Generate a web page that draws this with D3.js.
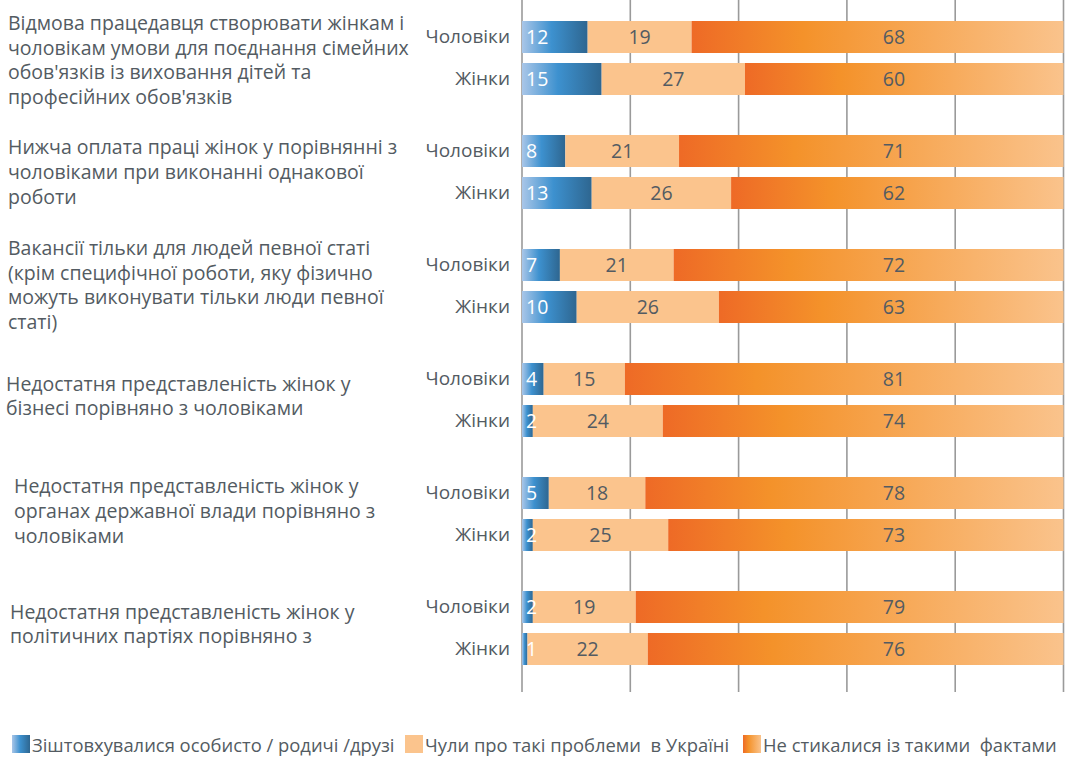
<!DOCTYPE html>
<html>
<head>
<meta charset="utf-8">
<script src="https://cdn.jsdelivr.net/npm/d3@7"></script>
<style>
  body { margin: 0; background: #fff; }
  text { font-family: 'Open Sans', sans-serif; fill: #535b62; }
</style>
</head>
<body>
<svg id="chart" width="1073" height="758"></svg>
<script>
'use strict';

// categories (label lines as in the source)
var groups = [
	['Відмова працедавця створювати жінкам і', 'чоловікам умови для поєднання сімейних', 'обов\'язків із виховання дітей та', 'професійних обов\'язків'],
	['Нижча оплата праці жінок у порівнянні з', 'чоловіками при виконанні однакової', 'роботи'],
	['Вакансії тільки для людей певної статі', '(крім специфічної роботи, яку фізично', 'можуть виконувати тільки люди певної', 'статі)'],
	['Недостатня представленість жінок у', 'бізнесі порівняно з чоловіками'],
	['Недостатня представленість жінок у', 'органах державної влади порівняно з', 'чоловіками'],
	['Недостатня представленість жінок у', 'політичних партіях порівняно з']
];
var sexes = ['Чоловіки', 'Жінки'];
var seriesNames = ['Зіштовхувалися особисто / родичі /друзі', 'Чули про такі проблеми  в Україні', 'Не стикалися із такими  фактами'];

// values per group: [men, women], each [personal, heard, never]
var personal = [[12, 15], [8, 13], [7, 10], [4, 2], [5, 2], [2, 1]];
var heard = [[19, 27], [21, 26], [21, 26], [15, 24], [18, 25], [19, 22]];
var never = [[68, 60], [71, 62], [72, 63], [81, 74], [78, 73], [79, 76]];

var ticks = [0, 0.2, 0.4, 0.6, 0.8, 1];

var svg = d3.select('#chart');
var defs = svg.append('defs');

var grad = function(id, stops) {
	var g = defs.append('linearGradient').attr('id', id)
		.attr('x1', '0%').attr('x2', '100%').attr('y1', '0%').attr('y2', '0%');
	stops.forEach(function(s) {
		g.append('stop').attr('offset', s[0]).attr('stop-color', s[1]);
	});
};
grad('gBlue', [['0%', '#a9c6e8'], ['45%', '#3d91cf'], ['100%', '#2e6690']]);
grad('gOrange', [['0%', '#ee6a26'], ['30%', '#f4922a'], ['100%', '#fac38c']]);
var fills = ['url(#gBlue)', '#fbc48d', 'url(#gOrange)'];

var rows = [];
groups.forEach(function(g, gi) {
	sexes.forEach(function(s, si) {
		rows.push({ group: gi, sex: s, v0: personal[gi][si], v1: heard[gi][si], v2: never[gi][si] });
	});
});

var stack = d3.stack().keys(['v0', 'v1', 'v2']).offset(d3.stackOffsetExpand);
var layers = stack(rows);

var x = d3.scaleLinear().domain([0, 1]).range([522, 1063.5]);
var yGroup = d3.scaleBand().domain(d3.range(groups.length)).range([6, 690]);
var ySex = d3.scaleBand().domain(sexes).range([15, 89]).paddingInner(10 / 42);

var rowY = function(d) { return yGroup(d.data.group) + ySex(d.data.sex); };

// grid
svg.append('g').selectAll('line').data(ticks).enter().append('line')
	.attr('x1', function(d) { return x(d); })
	.attr('x2', function(d) { return x(d); })
	.attr('y1', 0).attr('y2', 692)
	.attr('stroke', '#9a9a9a').attr('stroke-width', 1.6);

// bars
var layerG = svg.append('g').selectAll('g').data(layers).enter().append('g')
	.attr('fill', function(d, i) { return fills[i]; });
layerG.selectAll('rect').data(function(d) { return d; }).enter().append('rect')
	.attr('x', function(d) { return x(d[0]); })
	.attr('width', function(d) { return x(d[1]) - x(d[0]); })
	.attr('y', rowY)
	.attr('height', ySex.bandwidth());

// value labels
layers.forEach(function(layer, li) {
	svg.append('g').selectAll('text').data(layer).enter().append('text')
		.attr('x', function(d) {
			if (li === 0) { return x(0) + 4; }
			if (li === 1) { return (x(d[0]) + x(d[1])) / 2; }
			return 894;
		})
		.attr('y', function(d) { return rowY(d) + ySex.bandwidth() / 2; })
		.attr('dy', '0.36em')
		.attr('text-anchor', li === 0 ? 'start' : 'middle')
		.style('font-size', '19.5px')
		.style('fill', li === 0 ? '#ffffff' : '#535b62')
		.text(function(d) { return d.data[layer.key]; });
});

// row labels
svg.append('g').selectAll('text').data(rows).enter().append('text')
	.attr('x', 510)
	.attr('y', function(d) { return yGroup(d.group) + ySex(d.sex) + ySex.bandwidth() / 2; })
	.attr('dy', '0.33em')
	.attr('text-anchor', 'end')
	.style('font-size', '19px')
	.text(function(d) { return d.sex; });

// category labels
var labelX = [8, 8, 8, 6, 14, 10];
var labelShift = [-3, -5, -6, -9, -8, -9];
var lineH = 24.6;
groups.forEach(function(lines, gi) {
	var cy = yGroup(gi) + yGroup.bandwidth() / 2 + labelShift[gi];
	var top = cy - (lines.length - 1) * lineH / 2;
	svg.append('g').selectAll('text').data(lines).enter().append('text')
		.attr('x', labelX[gi])
		.attr('y', function(d, i) { return top + i * lineH; })
		.attr('dy', '0.36em')
		.style('font-size', '19.5px')
		.text(function(d) { return d; });
});

// legend
var legendX = [12, 405, 743];
var lg = svg.append('g').selectAll('g').data(seriesNames).enter().append('g')
	.attr('transform', function(d, i) { return 'translate(' + legendX[i] + ',735)'; });
lg.append('rect').attr('width', 18).attr('height', 18)
	.attr('fill', function(d, i) { return fills[i]; });
lg.append('text').attr('x', 20).attr('y', 10).attr('dy', '0.36em')
	.style('font-size', '18.4px').style('white-space', 'pre')
	.text(function(d) { return d; });
</script>
</body>
</html>
